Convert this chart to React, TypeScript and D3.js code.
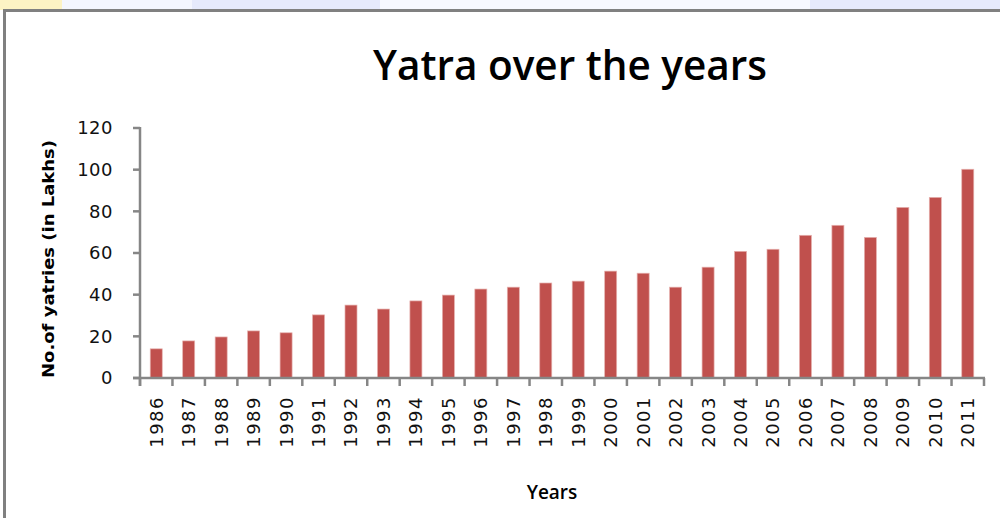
import React, { useEffect, useRef, ReactElement } from 'react'
import * as d3 from 'd3'

const years = ['1986', '1987', '1988', '1989', '1990', '1991', '1992', '1993', '1994', '1995', '1996', '1997', '1998',
  '1999', '2000', '2001', '2002', '2003', '2004', '2005', '2006', '2007', '2008', '2009', '2010', '2011']
const yatries = [14, 17.8, 19.7, 22.6, 21.7, 30.3, 35, 33.1, 37, 39.8, 42.7, 43.6, 45.6,
  46.5, 51.3, 50.3, 43.6, 53.2, 60.8, 61.8, 68.5, 73.3, 67.5, 81.9, 86.7, 100.2]
const yTicks = [0, 20, 40, 60, 80, 100, 120]

const App = (): ReactElement => {
  const ref = useRef<SVGSVGElement>(null)

  useEffect(() => {
    const width = 1000
    const height = 518
    const left = 140
    const right = 984
    const top = 128
    const bottom = 378
    const axisColor = '#868686'

    const svg = d3.select(ref.current)
    svg.selectAll('*').remove()

    // background strip above the chart frame
    svg.append('rect').attr('x', 0).attr('y', 0).attr('width', width).attr('height', 10).attr('fill', '#e6eafc')
    svg.append('rect').attr('x', 0).attr('y', 0).attr('width', 62).attr('height', 10).attr('fill', '#fdf3c4')
    svg.append('rect').attr('x', 62).attr('y', 0).attr('width', 130).attr('height', 10).attr('fill', '#f4f6fe')
    svg.append('rect').attr('x', 380).attr('y', 0).attr('width', 430).attr('height', 10).attr('fill', '#f7f8fe')

    // chart frame
    svg.append('rect')
      .attr('x', 4.5).attr('y', 10.5)
      .attr('width', width + 10).attr('height', height)
      .attr('fill', '#fff')
      .attr('stroke', '#808080')
      .attr('stroke-width', 3)

    const x = d3.scaleBand<string>()
      .domain(years)
      .range([left, right])
      .paddingInner(0.63)
      .paddingOuter(0.315)

    const y = d3.scaleLinear()
      .domain([0, 120])
      .range([bottom, top])

    const step = x.step()

    // bars
    svg.append('g')
      .selectAll('rect')
      .data(yatries)
      .join('rect')
      .attr('x', (d, i) => x(years[i]) ?? 0)
      .attr('y', d => y(d))
      .attr('width', x.bandwidth())
      .attr('height', d => y(0) - y(d))
      .attr('fill', '#c0504d')
      .attr('stroke', '#e6b1ae')
      .attr('stroke-width', 0.7)

    // y axis
    const ya = svg.append('g').attr('stroke', axisColor).attr('stroke-width', 2.5)
    ya.append('line').attr('x1', left).attr('x2', left).attr('y1', y(120) - 1).attr('y2', bottom + 8)
    ya.selectAll('line.tick')
      .data(yTicks)
      .join('line')
      .attr('class', 'tick')
      .attr('x1', left - 7).attr('x2', left)
      .attr('y1', d => y(d)).attr('y2', d => y(d))

    svg.append('g')
      .selectAll('text')
      .data(yTicks)
      .join('text')
      .attr('x', 113)
      .attr('y', d => y(d))
      .attr('dy', '0.36em')
      .attr('text-anchor', 'end')
      .style('font-family', '"DejaVu Sans", Verdana, sans-serif')
      .style('font-size', '18px')
      .style('letter-spacing', '0.5px')
      .attr('fill', '#111')
      .text(d => d)

    // x axis
    const xa = svg.append('g').attr('stroke', axisColor).attr('stroke-width', 2.5)
    xa.append('line').attr('x1', left - 7).attr('x2', right + 1).attr('y1', bottom).attr('y2', bottom)
    xa.selectAll('line.tick')
      .data(d3.range(years.length + 1))
      .join('line')
      .attr('class', 'tick')
      .attr('x1', i => left + i * step).attr('x2', i => left + i * step)
      .attr('y1', bottom).attr('y2', bottom + 8)

    svg.append('g')
      .selectAll('text')
      .data(years)
      .join('text')
      .attr('transform', d => `translate(${(x(d) ?? 0) + x.bandwidth() / 2},396) rotate(-90)`)
      .attr('dy', '0.36em')
      .attr('text-anchor', 'end')
      .style('font-family', '"DejaVu Sans", Verdana, sans-serif')
      .style('font-size', '18px')
      .style('letter-spacing', '1.5px')
      .attr('fill', '#111')
      .text(d => d)

    // titles
    svg.append('text')
      .attr('x', 570).attr('y', 80)
      .attr('text-anchor', 'middle')
      .attr('textLength', 394)
      .attr('lengthAdjust', 'spacingAndGlyphs')
      .style('font-family', '"Open Sans", Lato, sans-serif')
      .style('font-weight', 600)
      .style('font-size', '42px')
      .attr('fill', '#000')
      .text('Yatra over the years')

    svg.append('text')
      .attr('transform', 'translate(54,259) rotate(-90)')
      .attr('text-anchor', 'middle')
      .attr('textLength', 238)
      .attr('lengthAdjust', 'spacingAndGlyphs')
      .style('font-family', '"DejaVu Sans", Verdana, sans-serif')
      .style('font-weight', 'bold')
      .style('font-size', '16px')
      .attr('fill', '#000')
      .text('No.of yatries (in Lakhs)')

    svg.append('text')
      .attr('x', 552).attr('y', 499)
      .attr('text-anchor', 'middle')
      .style('font-family', '"Open Sans", Lato, sans-serif')
      .style('font-weight', 600)
      .style('font-size', '19px')
      .attr('fill', '#000')
      .text('Years')
  }, [])

  return (
    <svg ref={ref} width={1000} height={518}
      style={{ position: 'absolute', left: 0, top: 0, display: 'block', background: '#fff' }} />
  )
}

export default App
